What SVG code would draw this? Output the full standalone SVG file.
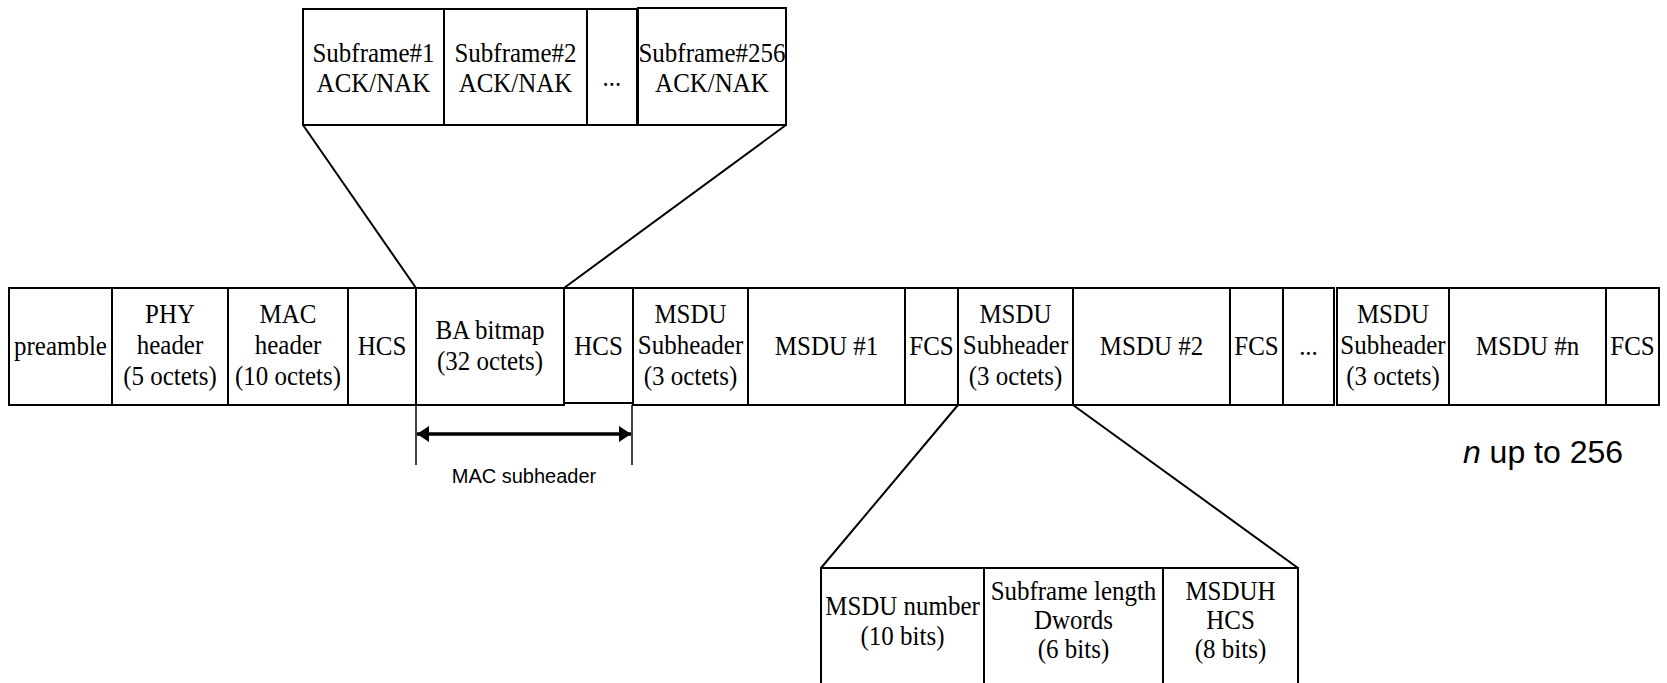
<svg xmlns="http://www.w3.org/2000/svg" width="1667" height="683" viewBox="0 0 1667 683">
  <style>
    .box { fill: #ffffff; stroke: #000000; stroke-width: 2; }
    .ln { fill: none; stroke: #000000; stroke-width: 2; }
    .dim { fill: none; stroke: #000000; stroke-width: 1.5; }
    .t { font-family: "Liberation Serif", "Times New Roman", serif; font-size: 27px; text-anchor: middle; fill: #000000;
         transform-box: fill-box; transform-origin: center; transform: scaleX(0.925); }
    .s { font-family: "Liberation Sans", Arial, sans-serif; text-anchor: middle; fill: #000000; }
  </style>
  <defs>
    <marker id="head" markerUnits="userSpaceOnUse" markerWidth="14" markerHeight="18" refX="12" refY="8" orient="auto-start-reverse">
      <path d="M0,0 L12,8 L0,16 Z" fill="#000000"/>
    </marker>
  </defs>
  <rect width="1667" height="683" fill="#ffffff"/>

  <!-- connectors: expansion lines and the MAC subheader span -->
  <g id="connectors">
    <line class="ln" x1="303" y1="125" x2="416" y2="288"/>
    <line class="ln" x1="786" y1="125" x2="564" y2="288"/>
    <line class="ln" x1="958" y1="405" x2="821" y2="568"/>
    <line class="ln" x1="1073" y1="405" x2="1298" y2="568"/>
    <line class="dim" x1="416" y1="405" x2="416" y2="465"/>
    <line class="dim" x1="632" y1="405" x2="632" y2="465"/>
    <line x1="417" y1="434" x2="631" y2="434" stroke="#000000" stroke-width="3.5" marker-start="url(#head)" marker-end="url(#head)"/>
    <text class="s" x="524" y="483" font-size="20">MAC subheader</text>
  </g>

  <!-- block-ack bitmap detail -->
  <g id="sf1">
    <rect class="box" x="303" y="9" width="141" height="116"/>
    <text class="t" x="373.5" y="62">Subframe#1</text>
    <text class="t" x="373.5" y="92">ACK/NAK</text>
  </g>
  <g id="sf2">
    <rect class="box" x="444" y="9" width="143" height="116"/>
    <text class="t" x="515.5" y="62">Subframe#2</text>
    <text class="t" x="515.5" y="92">ACK/NAK</text>
  </g>
  <g id="sf-more">
    <rect class="box" x="587" y="9" width="50" height="116"/>
    <text class="t" x="612" y="86">...</text>
  </g>
  <g id="sf256">
    <rect class="box" x="638" y="8" width="148" height="117"/>
    <text class="t" x="712" y="62">Subframe#256</text>
    <text class="t" x="712" y="92">ACK/NAK</text>
  </g>

  <!-- main frame -->
  <g id="preamble">
    <rect class="box" x="9" y="288" width="103" height="117"/>
    <text class="t" x="60.5" y="355">preamble</text>
  </g>
  <g id="phy-header">
    <rect class="box" x="112" y="288" width="116" height="117"/>
    <text class="t" x="170" y="323">PHY</text>
    <text class="t" x="170" y="354">header</text>
    <text class="t" x="170" y="385">(5 octets)</text>
  </g>
  <g id="mac-header">
    <rect class="box" x="228" y="288" width="120" height="117"/>
    <text class="t" x="288" y="323">MAC</text>
    <text class="t" x="288" y="354">header</text>
    <text class="t" x="288" y="385">(10 octets)</text>
  </g>
  <g id="hcs1">
    <rect class="box" x="348" y="288" width="68" height="117"/>
    <text class="t" x="382" y="355">HCS</text>
  </g>
  <g id="ba-bitmap">
    <rect class="box" x="416" y="288" width="148" height="117"/>
    <text class="t" x="490" y="339">BA bitmap</text>
    <text class="t" x="490" y="370">(32 octets)</text>
  </g>
  <g id="hcs2">
    <rect class="box" x="564" y="288" width="69" height="115"/>
    <text class="t" x="598.5" y="355">HCS</text>
  </g>
  <g id="msdu-sub1">
    <rect class="box" x="633" y="288" width="115" height="117"/>
    <text class="t" x="690.5" y="323">MSDU</text>
    <text class="t" x="690.5" y="354">Subheader</text>
    <text class="t" x="690.5" y="385">(3 octets)</text>
  </g>
  <g id="msdu1">
    <rect class="box" x="748" y="288" width="157" height="117"/>
    <text class="t" x="826.5" y="355">MSDU #1</text>
  </g>
  <g id="fcs1">
    <rect class="box" x="905" y="288" width="53" height="117"/>
    <text class="t" x="931.5" y="355">FCS</text>
  </g>
  <g id="msdu-sub2">
    <rect class="box" x="958" y="288" width="115" height="117"/>
    <text class="t" x="1015.5" y="323">MSDU</text>
    <text class="t" x="1015.5" y="354">Subheader</text>
    <text class="t" x="1015.5" y="385">(3 octets)</text>
  </g>
  <g id="msdu2">
    <rect class="box" x="1073" y="288" width="157" height="117"/>
    <text class="t" x="1151.5" y="355">MSDU #2</text>
  </g>
  <g id="fcs2">
    <rect class="box" x="1230" y="288" width="53" height="117"/>
    <text class="t" x="1256.5" y="355">FCS</text>
  </g>
  <g id="more">
    <rect class="box" x="1283" y="288" width="51" height="117"/>
    <text class="t" x="1308.5" y="355">...</text>
  </g>
  <g id="msdu-sub-n">
    <rect class="box" x="1337" y="288" width="112" height="117"/>
    <text class="t" x="1393" y="323">MSDU</text>
    <text class="t" x="1393" y="354">Subheader</text>
    <text class="t" x="1393" y="385">(3 octets)</text>
  </g>
  <g id="msdu-n">
    <rect class="box" x="1449" y="288" width="157" height="117"/>
    <text class="t" x="1527.5" y="355">MSDU #n</text>
  </g>
  <g id="fcs-n">
    <rect class="box" x="1606" y="288" width="53" height="117"/>
    <text class="t" x="1632.5" y="355">FCS</text>
  </g>

  <text class="s" x="1543" y="463" font-size="32"><tspan font-style="italic">n</tspan> up to 256</text>

  <!-- MSDU subheader detail -->
  <g id="msdu-number">
    <rect class="box" x="821" y="568" width="163" height="130"/>
    <text class="t" x="902.5" y="615">MSDU number</text>
    <text class="t" x="902.5" y="645">(10 bits)</text>
  </g>
  <g id="subframe-length">
    <rect class="box" x="984" y="568" width="179" height="130"/>
    <text class="t" x="1073.5" y="600">Subframe length</text>
    <text class="t" x="1073.5" y="629">Dwords</text>
    <text class="t" x="1073.5" y="658">(6 bits)</text>
  </g>
  <g id="msduh-hcs">
    <rect class="box" x="1163" y="568" width="135" height="130"/>
    <text class="t" x="1230.5" y="600">MSDUH</text>
    <text class="t" x="1230.5" y="629">HCS</text>
    <text class="t" x="1230.5" y="658">(8 bits)</text>
  </g>
</svg>
